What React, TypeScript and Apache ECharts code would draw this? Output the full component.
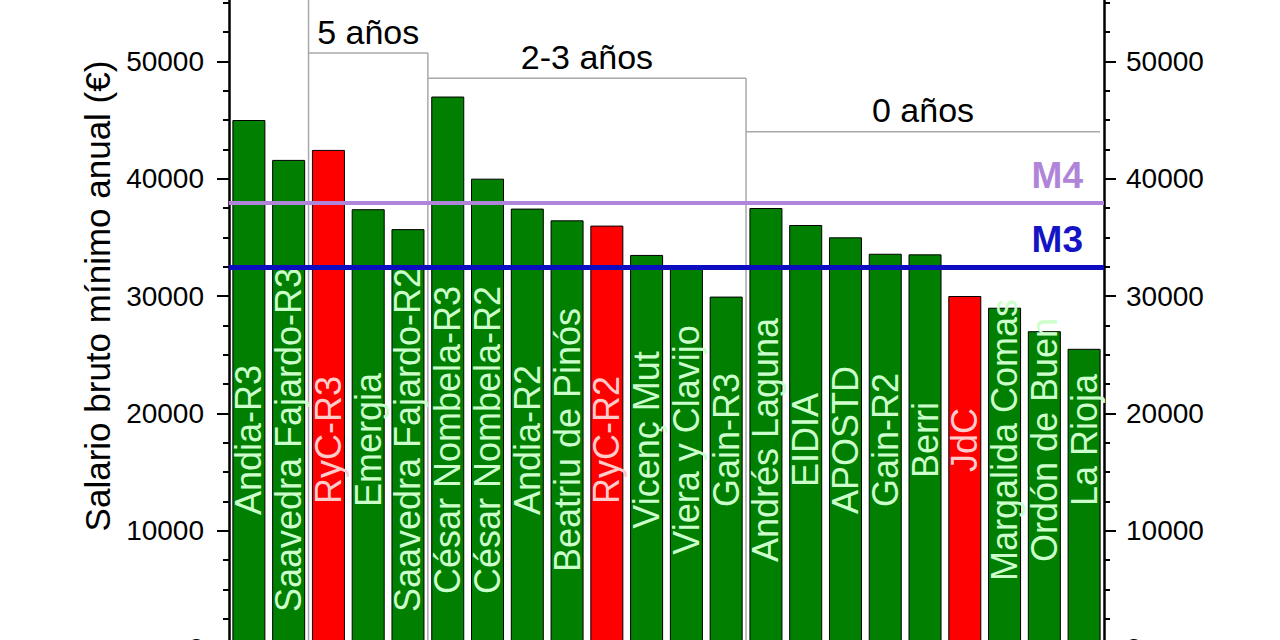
import React, { useEffect, useRef } from 'react';
import * as echarts from 'echarts';

const categories = [
  'Andia-R3',
  'Saavedra Fajardo-R3',
  'RyC-R3',
  'Emergia',
  'Saavedra Fajardo-R2',
  'César Nombela-R3',
  'César Nombela-R2',
  'Andia-R2',
  'Beatriu de Pinós',
  'RyC-R2',
  'Vicenç Mut',
  'Viera y Clavijo',
  'Gain-R3',
  'Andrés Laguna',
  'EIDIA',
  'APOSTD',
  'Gain-R2',
  'Berri',
  'JdC',
  'Margalida Comas',
  'Ordón de Buen',
  'La Rioja'
];

const salaries = [
  45000, 41600, 42450, 37400, 35700, 47000, 40000, 37450, 36450, 36000, 33500,
  32400, 29950, 37500, 36050, 35000, 33600, 33550, 30000, 29000, 27000, 25500
];

// programas estatales (en rojo)
const nationalPrograms = ['RyC-R3', 'RyC-R2', 'JdC'];

const referenceNames = ['M4', 'M3'];
const referenceValues = [37950, 32450];

// tramos de años de experiencia
const bracketLabels = ['5 años', '2-3 años', '0 años'];
const bracketStart = [1.5, 4.5, 12.5];
const bracketEnd = [4.5, 12.5, 21.4];
const bracketLevel = [50700, 48550, 44000];

const Y_MAX = 60000;
const FONT = '"Liberation Sans", Arial, sans-serif';

const GREEN = '#007f00';
const RED = '#ff0000';
const GREY = '#a8a8a8';

const App: React.FC = () => {
  const chartRef = useRef<HTMLDivElement>(null);

  useEffect(() => {
    if (!chartRef.current) return;
    const chart = echarts.init(chartRef.current, undefined, { renderer: 'svg' });

    const isNational = (name: string) => nationalPrograms.includes(name);

    const valueAxis = (position: 'left' | 'right', margin: number) => ({
      type: 'value',
      position,
      min: 0,
      max: Y_MAX,
      interval: 10000,
      axisLine: { show: true, onZero: false, lineStyle: { color: '#000', width: 2.5 } },
      axisTick: { show: true, inside: false, length: 12, lineStyle: { color: '#000', width: 2 } },
      minorTick: { show: true, splitNumber: 4, length: 6, lineStyle: { color: '#000', width: 2 } },
      splitLine: { show: false },
      axisLabel: {
        fontSize: 28,
        color: '#000',
        fontFamily: FONT,
        margin,
        formatter: (v: number) => String(v)
      }
    });

    const bracketSeries: any[] = [];
    bracketLabels.forEach((label, i) => {
      const top = i === 0 ? Y_MAX : bracketLevel[i - 1];
      bracketSeries.push({
        type: 'line',
        name: label + ' (límite)',
        xAxisIndex: 1,
        yAxisIndex: 0,
        symbol: 'none',
        showSymbol: false,
        silent: true,
        z: 1,
        lineStyle: { color: GREY, width: 1.5 },
        data: [
          [bracketStart[i], 0],
          [bracketStart[i], top]
        ]
      });
      bracketSeries.push({
        type: 'line',
        name: label,
        xAxisIndex: 1,
        yAxisIndex: 0,
        symbol: 'none',
        showSymbol: false,
        silent: true,
        z: 1,
        lineStyle: { color: GREY, width: 1.5 },
        data: [
          [bracketStart[i], bracketLevel[i]],
          [bracketEnd[i], bracketLevel[i]]
        ]
      });
    });

    const option = {
      animation: false,
      grid: { left: 229, right: 176, top: 12, bottom: 62 },
      xAxis: [
        {
          type: 'category',
          data: categories,
          z: 5,
          axisLine: { show: true, onZero: false, lineStyle: { color: '#000', width: 2.5 } },
          axisTick: { show: false },
          axisPointer: { show: false },
          axisLabel: {
            inside: true,
            interval: 0,
            rotate: 90,
            margin: 208,
            align: 'center',
            verticalAlign: 'middle',
            fontSize: 36,
            fontFamily: FONT,
            color: (value: string) => (isNational(value) ? '#ffcccc' : '#ccffcc')
          }
        },
        {
          type: 'value',
          min: -0.5,
          max: categories.length - 0.5,
          show: false,
          axisLine: { show: false, onZero: false }
        }
      ],
      yAxis: [
        {
          ...valueAxis('left', 25),
          name: 'Salario bruto mínimo anual (€)',
          nameLocation: 'middle',
          nameGap: 105,
          nameTextStyle: { fontSize: 35, color: '#000', fontFamily: FONT }
        },
        valueAxis('right', 22)
      ],
      series: [
        ...bracketSeries,
        {
          type: 'scatter',
          xAxisIndex: 1,
          yAxisIndex: 0,
          symbolSize: 1,
          silent: true,
          itemStyle: { color: 'rgba(0,0,0,0)', opacity: 1 },
          label: {
            show: true,
            position: 'top',
            distance: 4,
            fontSize: 34,
            color: '#000',
            opacity: 1,
            fontFamily: FONT,
            formatter: (p: any) => bracketLabels[p.dataIndex]
          },
          data: bracketLabels.map((_, i) => [(bracketStart[i] + bracketEnd[i]) / 2, bracketLevel[i]])
        },
        {
          type: 'bar',
          xAxisIndex: 0,
          yAxisIndex: 0,
          barCategoryGap: '17%',
          z: 2,
          data: salaries.map((v, i) => ({
            value: v,
            itemStyle: {
              color: isNational(categories[i]) ? RED : GREEN,
              borderColor: '#000',
              borderWidth: 1
            }
          })),
          markLine: {
            silent: true,
            symbol: 'none',
            z: 6,
            data: referenceNames.map((name, i) => ({
              name,
              yAxis: referenceValues[i],
              lineStyle: {
                color: i === 0 ? '#b084d8' : '#0c0cc0',
                width: i === 0 ? 4 : 5,
                type: 'solid'
              },
              label: {
                show: true,
                position: 'insideEndTop',
                distance: [21, 9],
                formatter: name,
                fontSize: 37,
                fontWeight: 'bold',
                fontFamily: FONT,
                color: i === 0 ? '#b084d8' : '#1414c4'
              }
            }))
          }
        }
      ]
    };

    chart.setOption(option as any);

    return () => {
      chart.dispose();
    };
  }, []);

  return (
    <div
      ref={chartRef}
      style={{ position: 'absolute', left: 0, top: -70, width: 1280, height: 780 }}
    />
  );
};

export default App;
